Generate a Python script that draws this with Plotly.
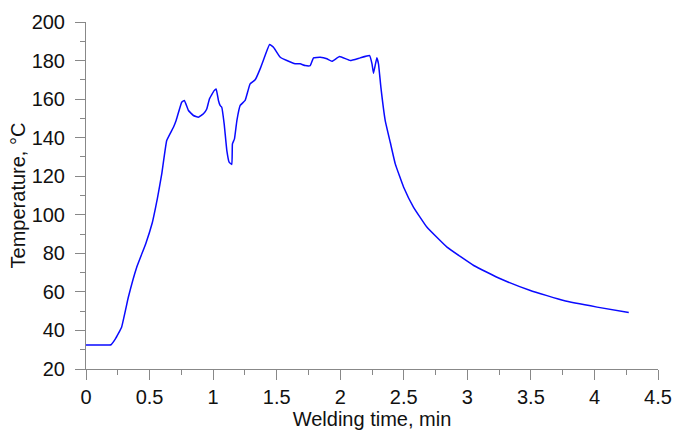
import plotly.graph_objects as go

time_min = [0.0, 0.10, 0.197, 0.23, 0.28, 0.333, 0.399, 0.47, 0.522, 0.548, 0.561, 0.596,
            0.635, 0.688, 0.709, 0.753, 0.774, 0.806, 0.845, 0.884, 0.924, 0.950, 0.971,
            1.008, 1.024, 1.042, 1.055, 1.068, 1.087, 1.108, 1.126, 1.147, 1.152, 1.168,
            1.187, 1.213, 1.252, 1.291, 1.331, 1.370, 1.409, 1.444, 1.475, 1.528, 1.580,
            1.646, 1.685, 1.724, 1.764, 1.790, 1.843, 1.895, 1.935, 1.995, 2.079, 2.157,
            2.231, 2.250, 2.262, 2.288, 2.301, 2.320, 2.354, 2.394, 2.433, 2.499, 2.577,
            2.683, 2.840, 3.050, 3.260, 3.496, 3.758, 4.021, 4.270]
temperature = [32.5, 32.5, 32.6, 35.5, 41.7, 57.2, 72.8, 85.0, 96.0, 104.0, 108.3, 121.2,
               138.5, 145.4, 148.9, 158.4, 159.3, 154.1, 151.5, 150.6, 152.4, 154.9, 160.1,
               164.4, 165.3, 159.3, 156.7, 155.8, 147.2, 133.3, 127.3, 126.1, 136.8, 139.4,
               148.9, 156.7, 159.3, 167.9, 170.0, 175.7, 182.6, 188.3, 186.9, 181.7, 180.0,
               178.3, 178.3, 177.4, 177.4, 181.4, 181.7, 180.9, 179.6, 182.1, 180.0, 181.4,
               182.6, 178.3, 173.4, 181.4, 178.3, 166.1, 148.9, 137.5, 126.4, 114.3, 103.9,
               93.5, 83.2, 73.7, 66.8, 60.7, 55.5, 52.1, 49.3]

x_ticks = [0, 0.5, 1, 1.5, 2, 2.5, 3, 3.5, 4, 4.5]
x_tick_labels = ["0", "0.5", "1", "1.5", "2", "2.5", "3", "3.5", "4", "4.5"]
y_ticks = [20, 40, 60, 80, 100, 120, 140, 160, 180, 200]

fig = go.Figure()
fig.add_trace(go.Scatter(x=time_min, y=temperature, mode="lines",
                         line=dict(color="#0a0aff", width=1.5, shape="spline", smoothing=0.3),
                         showlegend=False))

font = dict(family="Liberation Sans, Arial", size=20, color="#111111")
axis_common = dict(showgrid=False, zeroline=False, showline=True, linecolor="#888888",
                   linewidth=1, ticks="outside", ticklen=10, tickcolor="#888888",
                   tickfont=font, title_font=font, automargin=False)

fig.update_xaxes(range=[0, 4.5], tickvals=x_ticks, ticktext=x_tick_labels,
                 minor=dict(dtick=0.25, tick0=0, ticklen=5, tickcolor="#888888", ticks="outside"),
                 title_text="Welding time, min", title_standoff=2, **axis_common)
fig.update_yaxes(range=[20, 200], tickvals=y_ticks, ticklabelstandoff=6,
                 minor=dict(dtick=10, tick0=0, ticklen=5, tickcolor="#888888", ticks="outside"),
                 title_text="Temperature, °C", title_standoff=0, **axis_common)

fig.update_layout(width=674, height=430, margin=dict(l=86, r=16, t=22, b=61),
                  plot_bgcolor="white", paper_bgcolor="white")

fig.write_html("out.html", config={"displayModeBar": False},
               post_script="document.body.style.margin='0';document.body.style.overflow='hidden';")
